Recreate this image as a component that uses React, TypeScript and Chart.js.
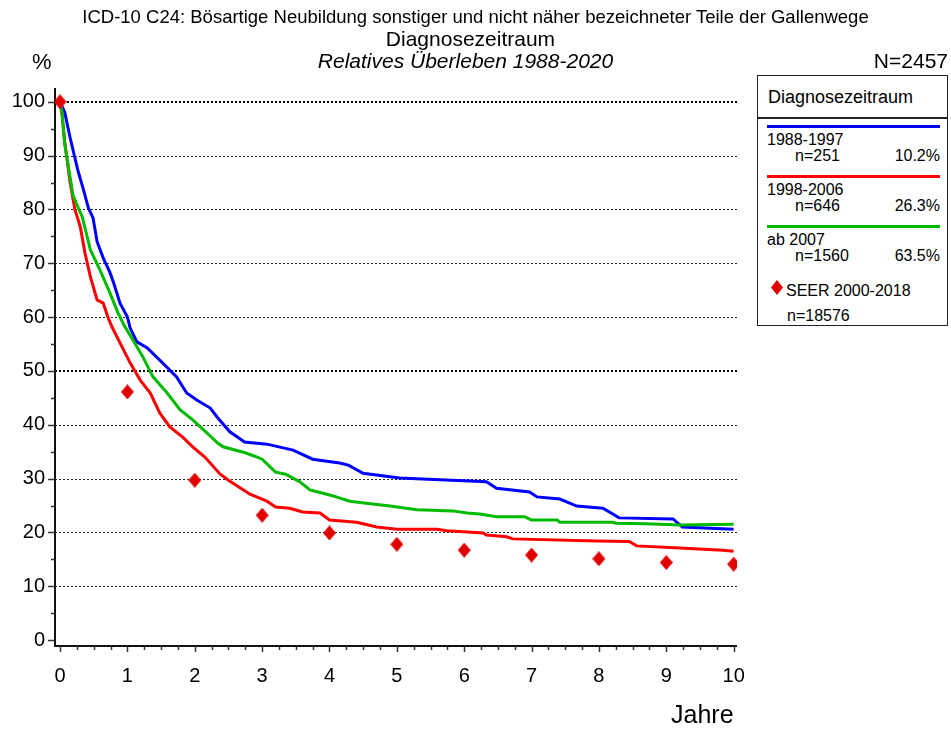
import React, { useEffect, useRef } from "react";
import { Chart, registerables } from "chart.js";

Chart.register(...registerables);

// ---- data ----
const BLUE_YEARS = [0, 0.07, 0.15, 0.22, 0.27, 0.34, 0.42, 0.49, 0.55, 0.64, 0.74, 0.8, 0.89, 1.0, 1.04, 1.14, 1.29, 1.48, 1.73, 1.88, 2.03, 2.23, 2.34, 2.52, 2.74, 3.07, 3.46, 3.75, 4.15, 4.28, 4.5, 5.04, 6.33, 6.48, 6.97, 7.08, 7.42, 7.67, 8.06, 8.3, 9.1, 9.24, 10.0];
const BLUE_SURV = [100, 98, 93.3, 89.6, 87, 84, 80.3, 78.4, 74, 71, 68.3, 66.2, 62.6, 60, 58, 55.4, 54.3, 52, 48.9, 45.9, 44.6, 43.1, 41.3, 38.7, 36.8, 36.4, 35.3, 33.6, 32.9, 32.5, 31, 30.1, 29.4, 28.2, 27.5, 26.6, 26.2, 24.9, 24.5, 22.7, 22.5, 21.0, 20.6];

const RED_YEARS = [0, 0.03, 0.07, 0.15, 0.22, 0.3, 0.37, 0.45, 0.55, 0.64, 0.71, 0.77, 0.89, 1.04, 1.19, 1.34, 1.48, 1.63, 1.82, 1.97, 2.15, 2.37, 2.5, 2.82, 3.07, 3.2, 3.41, 3.6, 3.86, 4.0, 4.4, 4.5, 4.7, 5.0, 5.6, 5.74, 6.28, 6.33, 6.63, 6.72, 7.97, 8.45, 8.56, 9.2, 9.84, 10.0];
const RED_SURV = [100, 97.5, 92.5, 85, 80, 76.8, 71.9, 67.5, 63.2, 62.6, 60, 58.2, 55.2, 51.5, 48.3, 45.9, 42.2, 39.6, 37.7, 35.9, 34, 30.9, 29.7, 27.1, 25.8, 24.7, 24.5, 23.8, 23.6, 22.3, 21.9, 21.6, 21.0, 20.6, 20.6, 20.3, 19.9, 19.5, 19.2, 18.8, 18.4, 18.3, 17.5, 17.1, 16.7, 16.5];

const GREEN_YEARS = [0, 0.03, 0.07, 0.15, 0.19, 0.27, 0.33, 0.45, 0.59, 0.74, 0.86, 0.95, 1.08, 1.23, 1.38, 1.59, 1.78, 1.97, 2.18, 2.34, 2.42, 2.72, 2.88, 3.0, 3.2, 3.35, 3.56, 3.71, 3.96, 4.1, 4.3, 4.64, 4.9, 5.3, 5.83, 6.04, 6.23, 6.48, 6.9, 7.0, 7.38, 7.42, 8.2, 8.26, 8.7, 9.2, 10.0];
const GREEN_SURV = [100, 98, 92, 85.9, 82.7, 80.3, 78.6, 72.5, 68.8, 64.5, 60.8, 58.5, 55.8, 52.6, 48.9, 45.9, 42.8, 40.9, 38.5, 36.6, 35.9, 34.9, 34.2, 33.6, 31.2, 30.8, 29.4, 27.9, 27.1, 26.6, 25.8, 25.3, 24.9, 24.2, 24.0, 23.6, 23.4, 22.9, 22.9, 22.3, 22.3, 21.9, 21.9, 21.7, 21.6, 21.4, 21.5];

const SEER_YEARS = [0, 1, 2, 3, 4, 5, 6, 7, 8, 9, 10];
const SEER_SURV = [100, 46.1, 29.7, 23.2, 19.9, 17.8, 16.7, 15.8, 15.1, 14.4, 14.1];

const X_TICKS = [0, 1, 2, 3, 4, 5, 6, 7, 8, 9, 10];
const Y_TICKS = [0, 10, 20, 30, 40, 50, 60, 70, 80, 90, 100];
const GRID_VALUES = [10, 20, 30, 40, 50, 60, 70, 80, 90, 100];
const BOLD_GRID = [50, 100];

const LEGEND_ITEMS = [
  { label: "1988-1997", n: "n=251", pct: "10.2%", color: "#0000ff" },
  { label: "1998-2006", n: "n=646", pct: "26.3%", color: "#ff0000" },
  { label: "ab 2007", n: "n=1560", pct: "63.5%", color: "#00bb00" },
];

const FONT = "'Liberation Sans', Arial, sans-serif";

function pts(xs: number[], ys: number[]) {
  return xs.map((x, i) => ({ x, y: ys[i] }));
}

function makeDiamond(w: number, h: number, color: string) {
  const c = document.createElement("canvas");
  c.width = w;
  c.height = h;
  const ctx = c.getContext("2d")!;
  ctx.fillStyle = color;
  ctx.beginPath();
  ctx.moveTo(w / 2, 0);
  ctx.lineTo(w, h / 2);
  ctx.lineTo(w / 2, h);
  ctx.lineTo(0, h / 2);
  ctx.closePath();
  ctx.fill();
  return c;
}

const axesPlugin = {
  id: "customAxes",
  beforeDatasetsDraw(chart: any) {
    const { ctx, chartArea, scales } = chart;
    const xs = scales.x;
    const ys = scales.y;
    ctx.save();
    // dotted grid lines
    GRID_VALUES.forEach((v) => {
      const y = Math.round(ys.getPixelForValue(v));
      const bold = BOLD_GRID.includes(v);
      ctx.beginPath();
      ctx.setLineDash([2, 2]);
      ctx.lineWidth = bold ? 2 : 1;
      ctx.strokeStyle = bold ? "#000" : "#222";
      const yy = bold ? y : y + 0.5;
      ctx.moveTo(chartArea.left, yy);
      ctx.lineTo(chartArea.right + 1, yy);
      ctx.stroke();
    });
    ctx.setLineDash([]);
    // y axis line
    ctx.strokeStyle = "#111";
    ctx.lineWidth = 2;
    ctx.beginPath();
    ctx.moveTo(chartArea.left, chartArea.top - 3);
    ctx.lineTo(chartArea.left, chartArea.bottom + 1);
    ctx.stroke();
    // x axis line
    ctx.beginPath();
    ctx.moveTo(chartArea.left - 1, chartArea.bottom);
    ctx.lineTo(chartArea.right, chartArea.bottom);
    ctx.stroke();
    // y ticks
    ctx.lineWidth = 1.5;
    ctx.strokeStyle = "#333";
    for (let v = 0; v <= 100; v += 5) {
      const y = Math.round(ys.getPixelForValue(v)) + 0.5;
      const major = v % 10 === 0;
      ctx.beginPath();
      ctx.moveTo(chartArea.left - (major ? 7 : 4), y);
      ctx.lineTo(chartArea.left, y);
      ctx.stroke();
    }
    // x ticks
    for (let i = 0; i <= 40; i++) {
      const v = i / 4;
      const x = Math.round(xs.getPixelForValue(v)) + 0.5;
      const major = i % 4 === 0;
      ctx.beginPath();
      ctx.moveTo(x, chartArea.bottom);
      ctx.lineTo(x, chartArea.bottom + (major ? 6 : 4));
      ctx.stroke();
    }
    ctx.restore();
  },
};

export default function App() {
  const ref = useRef<HTMLCanvasElement>(null);

  useEffect(() => {
    const canvas = ref.current!;
    const diamond = makeDiamond(13, 15, "#e00000");
    const chart = new Chart(canvas, {
      type: "line",
      data: {
        datasets: [
          {
            label: "SEER 2000-2018",
            data: pts(SEER_YEARS, SEER_SURV),
            showLine: false,
            pointStyle: diamond as any,
            pointRadius: 7,
            backgroundColor: "#e00000",
            borderColor: "#e00000",
          },
          {
            label: "ab 2007",
            data: pts(GREEN_YEARS, GREEN_SURV),
            borderColor: "#00bb00",
            borderWidth: 3,
            pointRadius: 0,
            tension: 0,
            fill: false,
          },
          {
            label: "1988-1997",
            data: pts(BLUE_YEARS, BLUE_SURV),
            borderColor: "#0000ff",
            borderWidth: 3,
            pointRadius: 0,
            tension: 0,
            fill: false,
          },
          {
            label: "1998-2006",
            data: pts(RED_YEARS, RED_SURV),
            borderColor: "#ff0000",
            borderWidth: 3,
            pointRadius: 0,
            tension: 0,
            fill: false,
          },
        ],
      },
      options: {
        responsive: false,
        animation: false,
        devicePixelRatio: 1,
        layout: { padding: { top: 91, right: 214, bottom: 0, left: 0 } },
        plugins: { legend: { display: false }, tooltip: { enabled: false }, title: { display: false } },
        scales: {
          x: {
            type: "linear",
            min: -0.075,
            max: 10.05,
            afterBuildTicks: (s: any) => {
              s.ticks = X_TICKS.map((v) => ({ value: v }));
            },
            afterFit: (s: any) => {
              s.height = 83;
            },
            grid: { display: false, drawTicks: false },
            border: { display: false },
            ticks: {
              font: { family: FONT, size: 20 },
              color: "#000",
              padding: 18,
              maxRotation: 0,
              autoSkip: false,
            },
          },
          y: {
            type: "linear",
            min: -1.1,
            max: 102,
            afterBuildTicks: (s: any) => {
              s.ticks = Y_TICKS.map((v) => ({ value: v }));
            },
            afterFit: (s: any) => {
              s.width = 55;
            },
            grid: { display: false, drawTicks: false },
            border: { display: false },
            ticks: {
              font: { family: FONT, size: 20 },
              color: "#000",
              padding: 10,
              autoSkip: false,
            },
          },
        },
      },
      plugins: [axesPlugin],
    });
    return () => chart.destroy();
  }, []);

  const txt = (style: React.CSSProperties): React.CSSProperties => ({
    position: "absolute",
    fontFamily: FONT,
    lineHeight: 1,
    whiteSpace: "nowrap",
    color: "#000",
    ...style,
  });

  return (
    <div style={{ position: "absolute", left: 0, top: 0, width: 951, height: 729, background: "#fff", overflow: "hidden" }}>
      <canvas ref={ref} width={951} height={729} style={{ position: "absolute", left: 0, top: 0, width: 951, height: 729 }} />
      <div style={txt({ left: 0, width: 951, top: 8, textAlign: "center", fontSize: 18.5 })}>
        ICD-10 C24: Bösartige Neubildung sonstiger und nicht näher bezeichneter Teile der Gallenwege
      </div>
      <div style={txt({ left: 0, width: 941, top: 28, textAlign: "center", fontSize: 21 })}>Diagnosezeitraum</div>
      <div style={txt({ left: 0, width: 931, top: 50, textAlign: "center", fontSize: 21, fontStyle: "italic" })}>
        Relatives Überleben 1988-2020
      </div>
      <div style={txt({ left: 32, top: 51, fontSize: 22 })}>%</div>
      <div style={txt({ right: 3, top: 50, fontSize: 21 })}>N=2457</div>
      <div style={txt({ left: 671, top: 702, fontSize: 25 })}>Jahre</div>

      {/* legend */}
      <div
        style={{
          position: "absolute",
          left: 757,
          top: 75,
          width: 189,
          height: 249,
          border: "1.5px solid #222",
          background: "#fff",
        }}
      />
      <div style={txt({ left: 768, top: 88, fontSize: 18 })}>Diagnosezeitraum</div>
      <div style={{ position: "absolute", left: 757, top: 117, width: 191, height: 1.5, background: "#222" }} />
      {LEGEND_ITEMS.map((it, i) => {
        const lineY = 125 + i * 50;
        return (
          <React.Fragment key={it.label}>
            <div style={{ position: "absolute", left: 767, top: lineY, width: 173, height: 3, background: it.color }} />
            <div style={txt({ left: 767, top: lineY + 7, fontSize: 16 })}>{it.label}</div>
            <div style={txt({ left: 795, top: lineY + 23, fontSize: 16 })}>{it.n}</div>
            <div style={txt({ right: 951 - 940, top: lineY + 23, fontSize: 16 })}>{it.pct}</div>
          </React.Fragment>
        );
      })}
      <div
        style={{
          position: "absolute",
          left: 771,
          top: 280,
          width: 12,
          height: 15,
          background: "#e00000",
          clipPath: "polygon(50% 0, 100% 50%, 50% 100%, 0 50%)",
        }}
      />
      <div style={txt({ left: 786, top: 283, fontSize: 16 })}>SEER 2000-2018</div>
      <div style={txt({ left: 787, top: 308, fontSize: 16 })}>n=18576</div>
    </div>
  );
}
